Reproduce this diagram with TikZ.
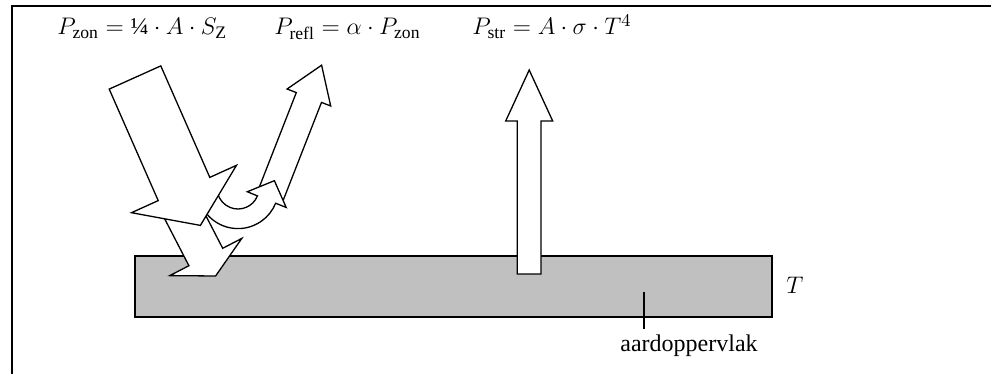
\documentclass[tikz,border=0pt]{standalone}
\usepackage{amsmath}
\usepackage{fontspec}
\setmainfont{Liberation Serif}
\usepackage{tikz}
\usetikzlibrary{calc}
\definecolor{aardgrijs}{RGB}{192,192,192}
\DeclareMathSizes{12}{12}{8.8}{7}

\begin{document}
\begin{tikzpicture}[x=0.5pt, y=-0.5pt,
    pijl/.style={draw, fill=white, line width=0.65pt, line join=miter},
    formule/.style={anchor=base west, inner sep=0pt, font=\fontsize{12}{14}\selectfont}]
            \useasboundingbox (0,0) rectangle (991,374);

            % frame (left and top)
            \draw[line width=1pt] (12,374) -- (12,6) -- (991,6);

            % earth surface
            \draw[line width=0.8pt, fill=aardgrijs] (135,256) rectangle (772,317);
            \node[inner sep=0pt, anchor=base, font=\fontsize{12}{14}\selectfont] (temp) at (795,293) {$T$};
            \draw[line width=0.6pt] (644,292) -- (644,329);
            \node[inner sep=0pt, anchor=base, font=\fontsize{12}{14}\selectfont] (aard) at (689,351) {aardoppervlak};

            % emitted radiation
            \draw[pijl] (517.3,274) -- (517.3,121) -- (505.7,121) -- (529.2,70)
                -- (552.7,121) -- (541,121) -- (541,274) -- cycle;

            % absorbed part, into the ground
            \draw[pijl] (161.3,212.3) -- (195.1,194.9) -- (222.7,248.3) -- (241.8,238.4)
                -- (215.6,276.0) -- (169.8,275.6) -- (188.9,265.7) -- cycle;

            % reflected part
            \draw[pijl] (258.1,190.2) -- (296.3,92.6) -- (287.1,89.0) -- (321.6,65.2)
                -- (330.7,106.0) -- (321.5,102.4) -- (283.5,199.5) -- cycle;
            \coordinate (M) at (238,188);
            \draw[pijl] ($(M)+(145:40.6)$) arc[start angle=145, end angle=22, radius=40.6]
                -- ($(M)+(22:52)$) -- ($(M)+(22:31)+(-68:20.4)$) -- ($(M)+(22:10)$)
                -- ($(M)+(22:21)$) arc[start angle=22, end angle=165, radius=21] -- cycle;

            % incoming sunlight
            \draw[pijl] (109.2,89.1) -- (160.8,65.9) -- (209.8,177.4) -- (236.5,165.3)
                -- (200.4,225.4) -- (131.5,212.7) -- (158.2,200.6) -- cycle;

            % formulas
            \node[formule] (zon) at (57,35) {$P_{\mathrm{zon}} = \text{\textonequarter} \cdot A \cdot S_{\mathrm{Z}}$};
            \node[formule] (refl) at (274,35) {$P_{\mathrm{refl}} = \alpha \cdot P_{\mathrm{zon}}$};
            \node[formule] (str) at (472,35) {$P_{\mathrm{str}} = A \cdot \sigma \cdot T^4$};
        \end{tikzpicture}
\end{document}
